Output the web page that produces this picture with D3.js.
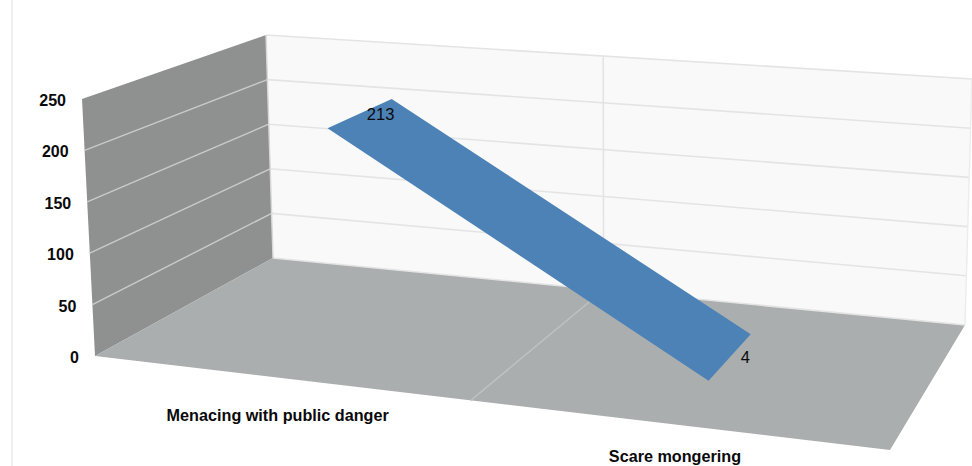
<!DOCTYPE html>
<html>
<head>
<meta charset="utf-8">
<style>
	html, body { margin: 0; padding: 0; background: #fff; }
	text { font-family: "Liberation Sans", Arial, sans-serif; fill: #0a0a0a; }
</style>
</head>
<body>
<script src="https://cdn.jsdelivr.net/npm/d3@7"></script>
<script>
	var categories = ["Menacing with public danger", "Scare mongering"];
	var values = [213, 4];
	var yTicks = [0, 50, 100, 150, 200, 250];

	var width = 972;
	var height = 466;

	var svg = d3.select("body").append("svg")
				.attr("width", width)
				.attr("height", height)
				.style("display", "block");

	// floor corners: front-left, front-right, back-right, back-left
	var floorQuad = [[95,356],[890,450],[965,325],[273,258]];
	// height of the 250 line at front-left, back-right, back-left (front-right follows from perspective)
	var topFL = [82,99], topBR = [972,79], topBL = [266,35];

	function homography(q) {
		var dx1 = q[1][0]-q[2][0], dx2 = q[3][0]-q[2][0], sx = q[0][0]-q[1][0]+q[2][0]-q[3][0];
		var dy1 = q[1][1]-q[2][1], dy2 = q[3][1]-q[2][1], sy = q[0][1]-q[1][1]+q[2][1]-q[3][1];
		var den = dx1*dy2-dx2*dy1;
		var g = (sx*dy2-dx2*sy)/den, h = (dx1*sy-sx*dy1)/den;
		var a = q[1][0]-q[0][0]+g*q[1][0], b = q[3][0]-q[0][0]+h*q[3][0];
		var d = q[1][1]-q[0][1]+g*q[1][1], e = q[3][1]-q[0][1]+h*q[3][1];
		return {
			w: function(u, v) { return g*u+h*v+1; },
			at: function(u, v) {
				var w = g*u+h*v+1;
				return [(a*u+b*v+q[0][0])/w, (d*u+e*v+q[0][1])/w];
			}
		};
	}
	var floorH = homography(floorQuad);

	// numerators of the vertical offset, linear in u and v, shared denominator with the floor
	function offsetNum(top, base, w) { return [(top[0]-base[0])*w, (top[1]-base[1])*w]; }
	var nFL = offsetNum(topFL, floorQuad[0], floorH.w(0,0));
	var nBL = offsetNum(topBL, floorQuad[3], floorH.w(0,1));
	var nBR = offsetNum(topBR, floorQuad[2], floorH.w(1,1));

	var yScale = d3.scaleLinear().domain([0, 250]).range([0, 1]);
	var xScale = d3.scalePoint().domain(categories).range([0.014, 1]).padding(0.5);
	var ribbonDepth = [0.3, 0.7]; // front and back edge of the ribbon

	function project(u, v, val) {
		var f = floorH.at(u, v), w = floorH.w(u, v), k = yScale(val);
		var nx = nFL[0]+(nBL[0]-nFL[0])*v+(nBR[0]-nBL[0])*u;
		var ny = nFL[1]+(nBL[1]-nFL[1])*v+(nBR[1]-nBL[1])*u;
		return [f[0]+nx/w*k, f[1]+ny/w*k];
	}
	var line = d3.line();
	function face(pts, fill) {
		svg.append("path").attr("d", line(pts)+"Z").attr("fill", fill);
	}
	function seg(a, b, color, w) {
		svg.append("line")
			.attr("x1", a[0]).attr("y1", a[1]).attr("x2", b[0]).attr("y2", b[1])
			.attr("stroke", color).attr("stroke-width", w);
	}

	// page edge line
	seg([12,0],[12,height],"#efefef",2);

	// walls and floor
	face([project(0,1,0),project(1,1,0),project(1,1,250),project(0,1,250)], "#f9f9f9");
	face([project(0,0,0),project(0,1,0),project(0,1,250),project(0,0,250)], "#8f9090");
	face([project(0,0,0),project(1,0,0),project(1,1,0),project(0,1,0)], "#aaaeae");

	// gridlines
	var midU = (xScale(categories[0])+xScale(categories[1]))/2;
	yTicks.forEach(function(t) {
		seg(project(0,1,t), project(1,1,t), "#e4e4e4", 1.6);
		if (t > 0 && t < 250) seg(project(0,0,t), project(0,1,t), "#c9cbcb", 1.4);
	});
	seg(project(midU,1,0), project(midU,1,250), "#e4e4e4", 1.6);
	seg(project(1,1,0), project(1,1,250), "#ececec", 1.4);
	seg(project(0,1,0), project(0,1,250), "#d8d8d8", 1.4);
	seg(project(midU,0,0), project(midU,1,0), "#bfc3c3", 1.4);

	// ribbon
	var ribbon = [
		project(xScale(categories[0]), ribbonDepth[0], values[0]),
		project(xScale(categories[0]), ribbonDepth[1], values[0]),
		project(xScale(categories[1]), ribbonDepth[1], values[1]),
		project(xScale(categories[1]), ribbonDepth[0], values[1])
	];
	face(ribbon, "#4c82b6");

	// value labels
	svg.selectAll(".val").data(values).enter().append("text")
		.attr("class", "val")
		.attr("font-size", "16.5px")
		.attr("text-anchor", "middle")
		.attr("x", function(d, i) { return project(xScale(categories[i]), 0.5, d)[0] + (i == 0 ? 20 : 15); })
		.attr("y", function(d, i) { return project(xScale(categories[i]), 0.5, d)[1] + (i == 0 ? 7 : 6); })
		.text(function(d) { return d; });

	// y axis labels
	svg.selectAll(".tick").data(yTicks).enter().append("text")
		.attr("class", "tick")
		.attr("font-size", "16px")
		.attr("font-weight", "bold")
		.attr("text-anchor", "end")
		.attr("x", function(d) { return project(0,0,d)[0] - 16; })
		.attr("y", function(d) { return project(0,0,d)[1] + 7; })
		.text(function(d) { return d; });

	// category labels
	svg.selectAll(".cat").data(categories).enter().append("text")
		.attr("class", "cat")
		.attr("font-size", "16.2px")
		.attr("font-weight", "bold")
		.attr("text-anchor", "middle")
		.attr("x", function(d, i) { return project(xScale(d),0,0)[0] + (i == 0 ? -4 : 2); })
		.attr("y", function(d, i) { return project(xScale(d),0,0)[1] + (i == 0 ? 43 : 38); })
		.text(function(d) { return d; });
</script>
</body>
</html>
